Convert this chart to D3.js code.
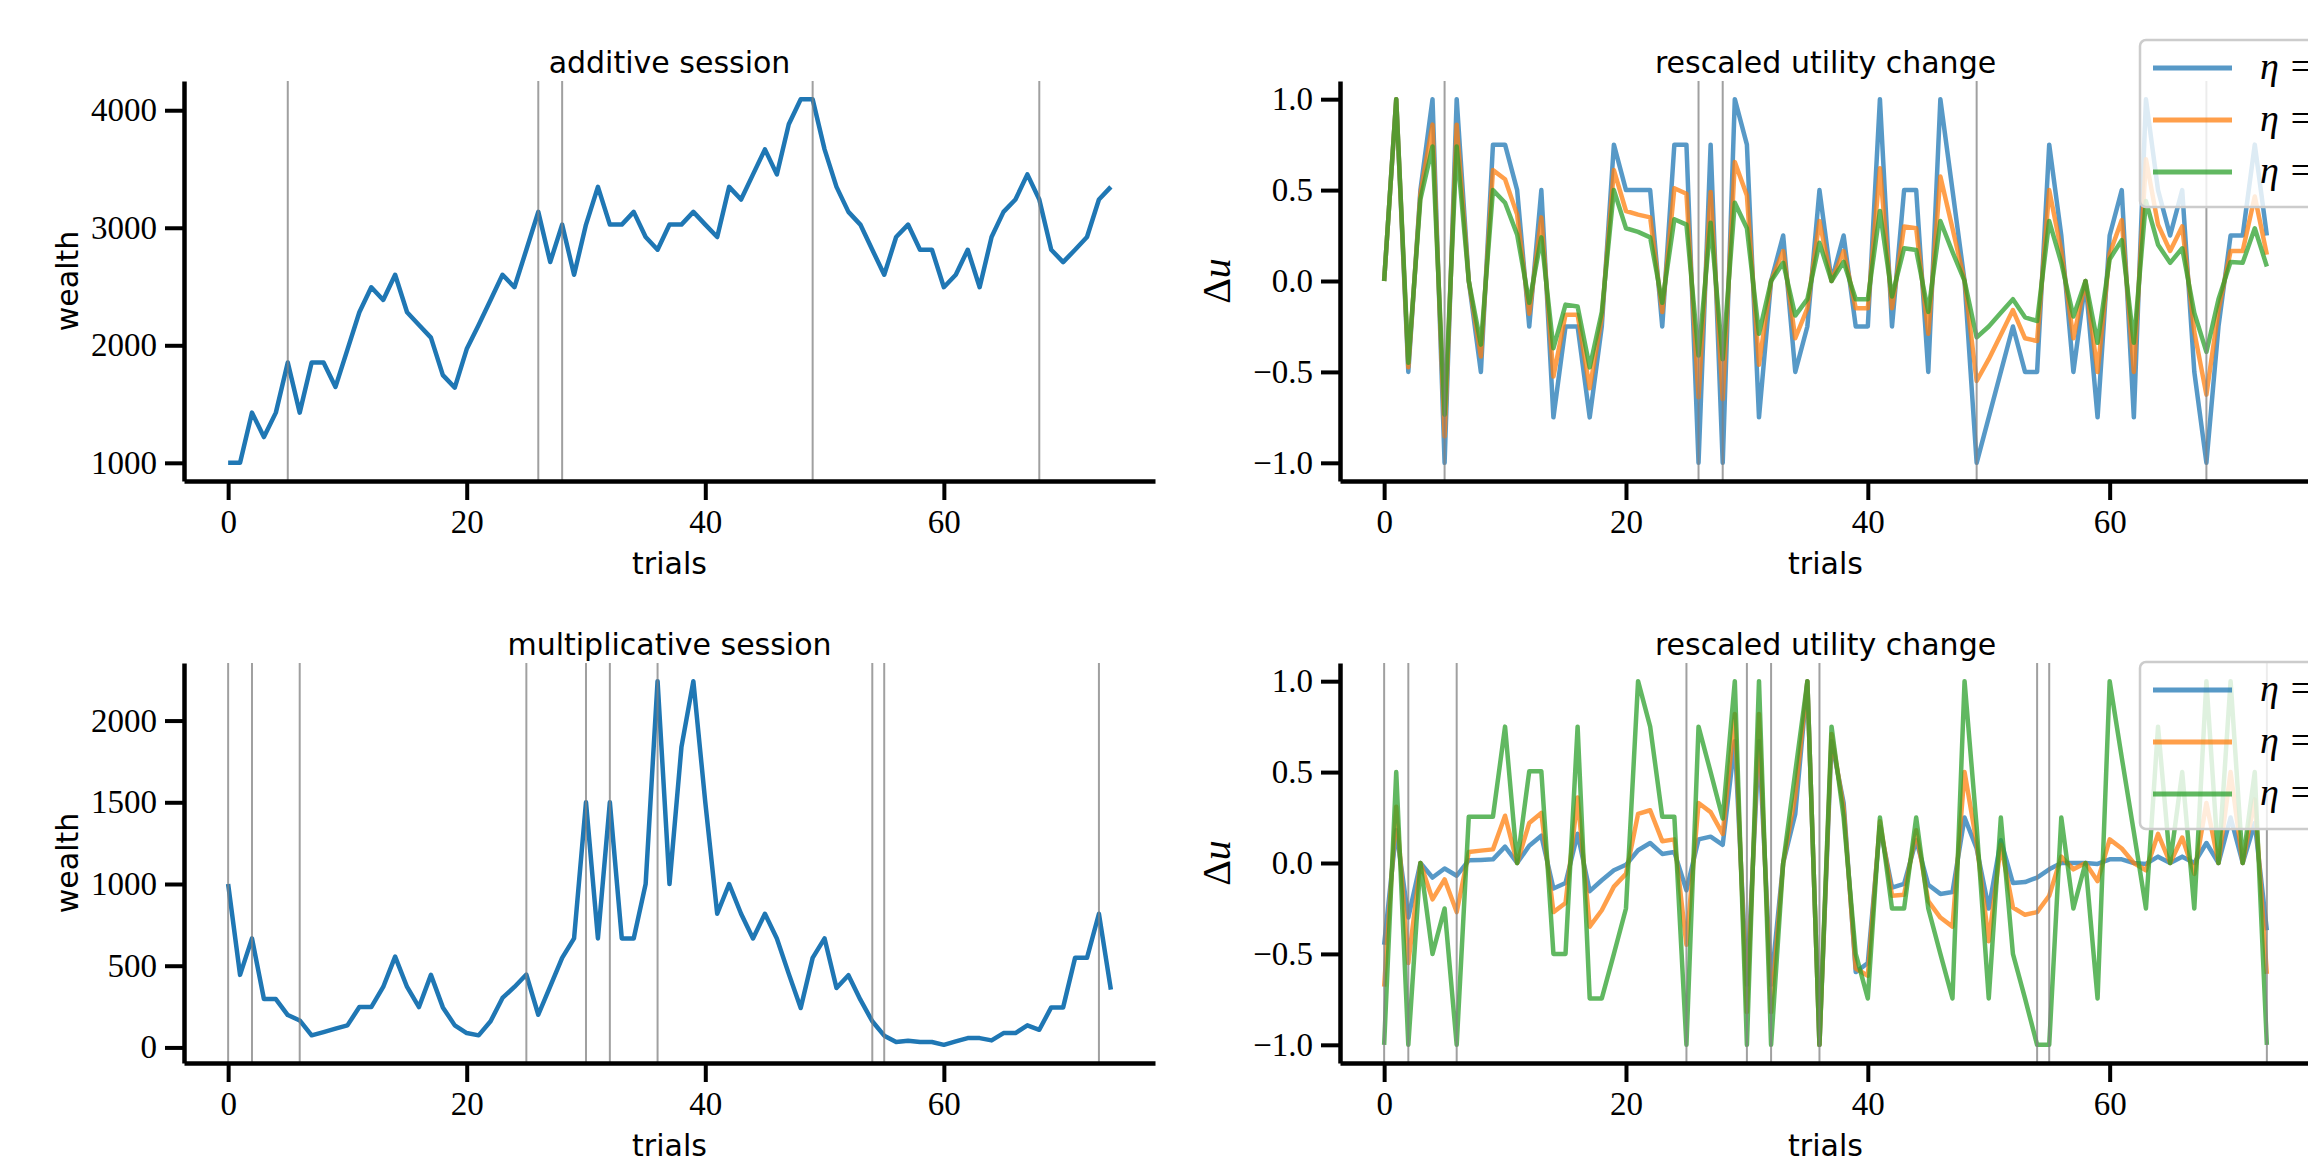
<!DOCTYPE html>
<html>
<head>
<meta charset="utf-8">
<script src="https://cdn.jsdelivr.net/npm/d3@7"></script>
<style>
  html, body { margin: 0; padding: 0; background: #fff; overflow: hidden; }
  svg { display: block; }
</style>
</head>
<body>
<div id="chart"></div>
<script>
// trial index, wealth and rescaled utility changes
const addWealth = [1000,1000,1427,1219,1427,1854,1427,1854,1854,1646, 1963,2281,2494,2386,2600,2281,2173,2065,1746,1640,
  1968,2173,2386,2600,2494,2813,3135,2708,3027,2600, 3027,3348,3027,3027,3135,2921,2813,3027,3027,3135,
  3027,2921,3348,3240,3454,3667,3454,3881,4094,4094, 3667,3348,3135,3027,2813,2600,2921,3027,2813,2813,
  2494,2600,2813,2494,2921,3135,3240,3454,3240,2813, 2708,2813,2921,3240,3348]

const mulWealth = [1000,444,667,296,296,198,165,74,94,115, 135,247,247,370,556,370,247,444,245,135,
  88,74,160,303,370,446,200,374,548,667, 1500,667,1500,667,667,1000,2241,1000,1837,2241,
  1500,818,1000,818,667,818,667,450,241,548, 667,364,442,292,160,72,33,41,33,33,
  16,37,57,57,43,88,88,135,108,245, 245,548,548,818,354]

const addEta0 = [0,1,-0.5,0.5,1,-1,1,0,-0.5,0.75, 0.75,0.5,-0.25,0.5,-0.75,-0.25,-0.25,-0.75,-0.25,0.75,
  0.5,0.5,0.5,-0.25,0.75,0.75,-1,0.75,-1,1, 0.75,-0.75,0,0.25,-0.5,-0.25,0.5,0,0.25,-0.25,
  -0.25,1,-0.25,0.5,0.5,-0.5,1,0.5,0,-1, -0.75,-0.5,-0.25,-0.5,-0.5,0.75,0.25,-0.5,0,-0.75,
  0.25,0.5,-0.75,1,0.5,0.25,0.5,-0.5,-1,-0.25, 0.25,0.25,0.75,0.25]
const addEta05 = [0,1,-0.475,0.48,0.86,-0.855,0.86,0,-0.415,0.61, 0.56,0.365,-0.18,0.35,-0.525,-0.185,-0.185,-0.59,-0.2,0.61,
  0.385,0.365,0.35,-0.17,0.51,0.48,-0.64,0.49,-0.65,0.655, 0.47,-0.46,0,0.165,-0.315,-0.15,0.33,0,0.165,-0.15,
  -0.15,0.62,-0.15,0.3,0.29,-0.29,0.575,0.29,0,-0.55, -0.43,-0.295,-0.16,-0.315,-0.33,0.5,0.165,-0.315,0,-0.5,
  0.15,0.335,-0.5,0.67,0.31,0.165,0.3,-0.28,-0.625,-0.16, 0.165,0.165,0.465,0.145]
const addEta1 = [0,1,-0.45,0.45,0.74,-0.735,0.74,0,-0.35,0.5, 0.43,0.255,-0.12,0.24,-0.37,-0.13,-0.14,-0.475,-0.17,0.5,
  0.29,0.27,0.24,-0.12,0.34,0.31,-0.41,0.32,-0.43,0.43, 0.29,-0.29,0,0.1,-0.19,-0.1,0.21,0,0.105,-0.1,
  -0.1,0.385,-0.085,0.18,0.17,-0.17,0.33,0.16,0,-0.31, -0.25,-0.175,-0.1,-0.2,-0.22,0.33,0.1,-0.195,0,-0.34,
  0.12,0.225,-0.34,0.44,0.2,0.1,0.18,-0.175,-0.39,-0.1, 0.105,0.1,0.29,0.08]

const mulEta0 = [-0.45,0.18,-0.3,0,-0.08,-0.03,-0.07,0.015,0.017,0.02, 0.09,0,0.095,0.15,-0.14,-0.11,0.16,-0.155,-0.095,-0.04,
  -0.01,0.07,0.11,0.05,0.06,-0.15,0.13,0.145,0.1,0.67, -0.67,0.67,-0.67,0,0.27,1,-1,0.67,0.33,-0.6,
  -0.55,0.2,-0.135,-0.115,0.125,-0.12,-0.17,-0.16,0.25,0.08, -0.25,0.125,-0.11,-0.105,-0.08,-0.035,0,0,0,-0.005,
  0.02,0.02,0,-0.005,0.035,0,0.035,0,0.11,0, 0.25,0,0.22,-0.37]
const mulEta05 = [-0.68,0.31,-0.55,0,-0.2,-0.09,-0.27,0.06,0.068,0.075, 0.26,0,0.22,0.275,-0.27,-0.22,0.36,-0.35,-0.26,-0.13,
  -0.06,0.27,0.29,0.12,0.13,-0.45,0.33,0.28,0.16,0.82, -0.82,0.82,-0.82,0,0.37,1,-1,0.71,0.3,-0.58,
  -0.62,0.23,-0.18,-0.175,0.18,-0.21,-0.3,-0.35,0.5,0.11, -0.43,0.1,-0.245,-0.285,-0.27,-0.18,0.035,-0.035,0,-0.1,
  0.13,0.08,0,-0.04,0.16,0,0.14,-0.06,0.33,0, 0.5,0,0.35,-0.61]
const mulEta1 = [-1,0.5,-1,0,-0.5,-0.25,-1,0.255,0.255,0.255, 0.75,0,0.505,0.505,-0.5,-0.5,0.75,-0.745,-0.745,-0.5,
  -0.25,1,0.75,0.255,0.255,-1,0.75,0.5,0.245,1, -1,1,-1,0,0.5,1,-1,0.75,0.25,-0.5,
  -0.745,0.25,-0.25,-0.25,0.25,-0.25,-0.5,-0.745,1,0.2, -0.745,0.25,-0.5,-0.745,-1,-1,0.25,-0.25,0,-0.745,
  1,0.58,0.17,-0.25,0.75,0,0.5,-0.25,1,0, 1,0,0.5,-1]

const addEvents = [5, 26, 28, 49, 68]
const mulEvents = [0, 2, 6, 25, 30, 32, 36, 54, 55, 73]

const etaLabels = ['η = 0.0', 'η = 0.5', 'η = 1.0']
const etaColors = ['#1f77b4', '#ff7f0e', '#2ca02c']
const xTicks = [0, 20, 40, 60]

const params = {
  width: 2308,
  height: 1160,
  rows: [[81, 481], [663, 1063]],
  cols: [[184, 1155], [1340, 2311]],
}

const svg = d3.select('#chart')
  .append('svg')
  .attr('width', params.width)
  .attr('height', params.height)

// matplotlib style 5% margin on both ends
function padded(ext) {
  const m = (ext[1] - ext[0]) * 0.05
  return [ext[0] - m, ext[1] + m]
}

function panel(opts) {
  const [x0, x1] = params.cols[opts.col]
  const [yt, yb] = params.rows[opts.row]
  const g = svg.append('g')

  const n = d3.max(opts.series, s => s.length)
  const x = d3.scaleLinear().domain(padded([0, n - 1])).range([x0, x1])
  const y = d3.scaleLinear().domain(padded(d3.extent(opts.series.flat()))).range([yb, yt])

  // data lines
  opts.series.forEach((s, k) => {
    const line = d3.line().x((d, i) => x(i)).y(d => y(d))
    g.append('path')
      .datum(s)
      .attr('d', line)
      .attr('fill', 'none')
      .attr('stroke', opts.colors[k])
      .attr('stroke-opacity', opts.alpha)
      .attr('stroke-width', 4.5)
      .attr('stroke-linejoin', 'round')
  })

  // event markers
  g.selectAll('line.event')
    .data(opts.events)
    .enter()
    .append('line')
    .attr('class', 'event')
    .attr('x1', d => x(d))
    .attr('x2', d => x(d))
    .attr('y1', yt)
    .attr('y2', yb)
    .attr('stroke', '#808080')
    .attr('stroke-opacity', 0.75)
    .attr('stroke-width', 2)

  const xAxis = g.append('g')
    .attr('transform', `translate(0,${yb})`)
    .call(d3.axisBottom(x).tickValues(xTicks).tickFormat(d3.format('d')).tickSize(19).tickSizeOuter(0).tickPadding(10))
  const yAxis = g.append('g')
    .attr('transform', `translate(${x0},0)`)
    .call(d3.axisLeft(y).tickValues(opts.yTicks).tickFormat(opts.yFormat).tickSize(19).tickSizeOuter(0).tickPadding(8))

  ;[xAxis, yAxis].forEach(a => {
    a.select('.domain').attr('stroke', '#000').attr('stroke-width', 4.5)
    a.selectAll('.tick line').attr('stroke', '#000').attr('stroke-width', 4)
    a.selectAll('.tick text')
      .attr('fill', '#000')
      .style('font-family', '"Liberation Serif", serif')
      .style('font-size', '33px')
  })

  g.append('text')
    .attr('x', (x0 + x1) / 2)
    .attr('y', yt - 8)
    .attr('text-anchor', 'middle')
    .style('font-family', '"DejaVu Sans", sans-serif')
    .style('font-size', '30px')
    .text(opts.title)

  g.append('text')
    .attr('x', (x0 + x1) / 2)
    .attr('y', yb + 93)
    .attr('text-anchor', 'middle')
    .style('font-family', '"DejaVu Sans", sans-serif')
    .style('font-size', '30px')
    .text('trials')

  const yl = g.append('text')
    .attr('transform', `translate(${opts.ylabelX},${(yb + yt) / 2}) rotate(-90)`)
    .attr('text-anchor', 'middle')
  if (opts.ylabel === 'du') {
    yl.style('font-family', '"Liberation Serif", serif').style('font-size', '40px')
    yl.append('tspan').text('Δ')
    yl.append('tspan').style('font-style', 'italic').text('u')
  } else {
    yl.style('font-family', '"DejaVu Sans", sans-serif').style('font-size', '30px').text(opts.ylabel)
  }

  if (opts.legendTop !== undefined) {
    const lg = g.append('g').attr('transform', `translate(2140,${opts.legendTop})`)
    lg.append('rect')
      .attr('width', 240)
      .attr('height', 167)
      .attr('rx', 6)
      .attr('fill', '#fff')
      .attr('fill-opacity', 0.8)
      .attr('stroke', '#cccccc')
      .attr('stroke-width', 2.5)
    etaLabels.forEach((lab, k) => {
      const ly = 28 + k * 52
      lg.append('line')
        .attr('x1', 13).attr('x2', 92)
        .attr('y1', ly).attr('y2', ly)
        .attr('stroke', etaColors[k])
        .attr('stroke-opacity', 0.75)
        .attr('stroke-width', 5)
      lg.append('text')
        .attr('x', 120)
        .attr('y', ly + 11)
        .style('font-family', '"Liberation Serif", serif')
        .style('font-style', 'italic')
        .style('font-size', '38px')
        .text(lab)
    })
  }
}

panel({
  row: 0, col: 0, series: [addWealth], colors: ['#1f77b4'], alpha: 1,
  events: addEvents, yTicks: [1000, 2000, 3000, 4000], yFormat: d3.format('d'),
  title: 'additive session', ylabel: 'wealth', ylabelX: 78,
})
panel({
  row: 0, col: 1, series: [addEta0, addEta05, addEta1], colors: etaColors, alpha: 0.75,
  events: addEvents, yTicks: [-1, -0.5, 0, 0.5, 1], yFormat: d3.format('.1f'),
  title: 'rescaled utility change', ylabel: 'du', ylabelX: 1230, legendTop: 40,
})
panel({
  row: 1, col: 0, series: [mulWealth], colors: ['#1f77b4'], alpha: 1,
  events: mulEvents, yTicks: [0, 500, 1000, 1500, 2000], yFormat: d3.format('d'),
  title: 'multiplicative session', ylabel: 'wealth', ylabelX: 78,
})
panel({
  row: 1, col: 1, series: [mulEta0, mulEta05, mulEta1], colors: etaColors, alpha: 0.75,
  events: mulEvents, yTicks: [-1, -0.5, 0, 0.5, 1], yFormat: d3.format('.1f'),
  title: 'rescaled utility change', ylabel: 'du', ylabelX: 1230, legendTop: 662,
})
</script>
</body>
</html>
